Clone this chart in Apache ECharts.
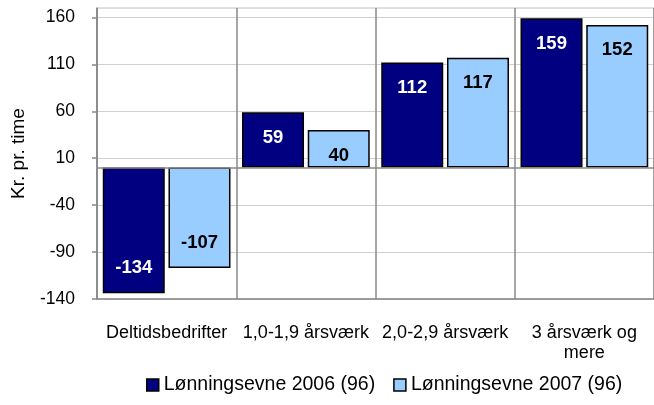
<!DOCTYPE html>
<html>
<head>
<meta charset="utf-8">
<script src="https://cdn.jsdelivr.net/npm/echarts@6/dist/echarts.min.js"></script>
<style>
    html, body { margin: 0; padding: 0; background: #fff; }
    #chart { width: 654px; height: 405px; }
</style>
</head>
<body>
<div id="chart"></div>
<script>
// kategorier og værdier
var categories = ['Deltidsbedrifter', '1,0-1,9 årsværk', '2,0-2,9 årsværk', '3 årsværk og\nmere'];
var values2006 = [-134, 59, 112, 159];
var values2007 = [-107, 40, 117, 152];
var yTicks = [-140, -90, -40, 10, 60, 110, 160];

var FONT = '"Liberation Sans", Arial, sans-serif';

// label inde i søjlen, ved enden væk fra nul
function withLabels(values) {
    return values.map(function (v) {
        return {
            value: v,
            label: {position: v < 0 ? 'insideBottom' : 'insideTop'}
        };
    });
}

function barSeries(name, values, color, textColor) {
    return {
        name: name,
        type: 'bar',
        data: withLabels(values),
        barWidth: 62,
        barGap: '6%',
        itemStyle: {color: color, borderColor: '#000', borderWidth: 1.5},
        label: {
            show: true,
            distance: 16,
            color: textColor,
            fontFamily: FONT,
            fontWeight: 'bold',
            fontSize: 18.5
        }
    };
}

var chart = echarts.init(document.getElementById('chart'));

var s2006 = barSeries('Lønningsevne 2006 (96)', values2006, '#000080', '#fff');
s2006.markLine = {
    silent: true,
    symbol: 'none',
    label: {show: false},
    lineStyle: {color: '#888', type: 'solid', width: 1.5},
    data: [{yAxis: 0}]
};

chart.setOption({
    animation: false,
    textStyle: {fontFamily: FONT},
    grid: {
        left: 97,
        top: 8,
        right: -6,
        bottom: 106,
        show: true,
        borderColor: '#c0c0c0',
        borderWidth: 1
    },
    legend: {
        bottom: 5,
        left: 141,
        icon: 'rect',
        itemWidth: 12,
        itemHeight: 12,
        itemGap: 18,
        textStyle: {fontSize: 19.5, color: '#000', fontFamily: FONT},
        data: [
            {name: 'Lønningsevne 2006 (96)', itemStyle: {borderColor: '#000', borderWidth: 1.5}},
            {name: 'Lønningsevne 2007 (96)', itemStyle: {borderColor: '#000', borderWidth: 1.5}}
        ]
    },
    xAxis: {
        type: 'category',
        data: categories,
        axisLine: {onZero: false, lineStyle: {color: '#888', width: 1.5}},
        axisTick: {show: false},
        splitLine: {show: true, lineStyle: {color: '#888', width: 1.5}},
        axisLabel: {
            color: '#000',
            fontSize: 18,
            fontFamily: FONT,
            margin: 24,
            interval: 0,
            lineHeight: 20
        }
    },
    yAxis: {
        type: 'value',
        min: -140,
        max: 170,
        name: 'Kr. pr. time',
        nameLocation: 'middle',
        nameGap: 69,
        nameTextStyle: {color: '#000', fontSize: 19, fontFamily: FONT},
        axisLine: {show: true, lineStyle: {color: '#888', width: 1.5}},
        axisTick: {show: true, length: 5, customValues: yTicks, lineStyle: {color: '#888', width: 1.5}},
        axisLabel: {
            customValues: yTicks,
            color: '#000',
            fontSize: 17.5,
            fontFamily: FONT,
            margin: 22
        },
        splitLine: {show: true, lineStyle: {color: '#d0d0d0', width: 1}}
    },
    series: [
        s2006,
        barSeries('Lønningsevne 2007 (96)', values2007, '#99ccff', '#000')
    ]
});
</script>
</body>
</html>
